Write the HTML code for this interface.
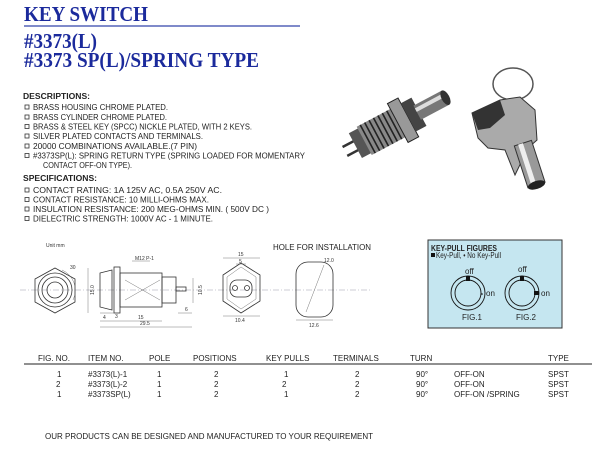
<!DOCTYPE html>
<html><head><meta charset="utf-8"><style>
html,body{margin:0;padding:0;background:#fff;}
svg{display:block}
.t{font-family:"Liberation Sans",sans-serif;font-size:8px;fill:#222}
.s{font-family:"Liberation Serif",serif;font-weight:bold;fill:#1b2a9c;font-size:21px}
.d{font-family:"Liberation Sans",sans-serif;font-size:5px;fill:#333}
.ln{stroke:#333;stroke-width:0.8;fill:none}
.th{stroke:#555;stroke-width:0.4;fill:none}
</style></head><body>
<svg width="600" height="451" viewBox="0 0 600 451" xmlns="http://www.w3.org/2000/svg">
<rect width="600" height="451" fill="#fff"/>
<text class="s" x="24" y="21" textLength="124" lengthAdjust="spacingAndGlyphs">KEY SWITCH</text>
<line x1="24" y1="26" x2="300" y2="26" stroke="#3344aa" stroke-width="1.2"/>
<text class="s" x="24" y="48" textLength="73" lengthAdjust="spacingAndGlyphs">#3373(L)</text>
<text class="s" x="24" y="67" textLength="235" lengthAdjust="spacingAndGlyphs">#3373 SP(L)/SPRING TYPE</text>
<g class="t">
<text x="23" y="99" font-weight="bold" textLength="67" lengthAdjust="spacingAndGlyphs">DESCRIPTIONS:</text>
<text x="33" y="110" textLength="135" lengthAdjust="spacingAndGlyphs">BRASS HOUSING CHROME PLATED.</text>
<text x="33" y="120" textLength="134" lengthAdjust="spacingAndGlyphs">BRASS CYLINDER CHROME PLATED.</text>
<text x="33" y="129.5" textLength="219" lengthAdjust="spacingAndGlyphs">BRASS &amp; STEEL KEY (SPCC) NICKLE PLATED, WITH 2 KEYS.</text>
<text x="33" y="139" textLength="170" lengthAdjust="spacingAndGlyphs">SILVER PLATED CONTACTS AND TERMINALS.</text>
<text x="33" y="149" textLength="164" lengthAdjust="spacingAndGlyphs">20000 COMBINATIONS AVAILABLE.(7 PIN)</text>
<text x="33" y="158.5" textLength="272" lengthAdjust="spacingAndGlyphs">#3373SP(L): SPRING RETURN TYPE (SPRING LOADED FOR MOMENTARY</text>
<text x="43" y="168" textLength="89" lengthAdjust="spacingAndGlyphs">CONTACT OFF-ON TYPE).</text>
<text x="23" y="181" font-weight="bold" textLength="74" lengthAdjust="spacingAndGlyphs">SPECIFICATIONS:</text>
<text x="33" y="193" textLength="189" lengthAdjust="spacingAndGlyphs">CONTACT RATING: 1A 125V AC, 0.5A 250V AC.</text>
<text x="33" y="202.5" textLength="176" lengthAdjust="spacingAndGlyphs">CONTACT RESISTANCE: 10 MILLI-OHMS MAX.</text>
<text x="33" y="212" textLength="236" lengthAdjust="spacingAndGlyphs">INSULATION RESISTANCE: 200 MEG-OHMS MIN. ( 500V DC )</text>
<text x="33" y="221.5" textLength="180" lengthAdjust="spacingAndGlyphs">DIELECTRIC STRENGTH: 1000V AC - 1 MINUTE.</text>
</g>
<g fill="none" stroke="#333" stroke-width="0.8">
<rect x="25" y="105" width="4" height="4"/><rect x="25" y="115" width="4" height="4"/><rect x="25" y="124.5" width="4" height="4"/><rect x="25" y="134" width="4" height="4"/><rect x="25" y="144" width="4" height="4"/><rect x="25" y="153.5" width="4" height="4"/>
<rect x="25" y="188" width="4" height="4"/><rect x="25" y="197.5" width="4" height="4"/><rect x="25" y="207" width="4" height="4"/><rect x="25" y="216.5" width="4" height="4"/>
</g>
<g transform="rotate(-28 396 124)">
<rect x="338" y="118" width="14" height="2.5" fill="#333"/><rect x="338" y="128" width="14" height="2.5" fill="#333"/>
<rect x="350" y="110" width="12" height="28" fill="#555"/>
<rect x="360" y="108" width="40" height="32" fill="#888"/>
<g stroke="#222" stroke-width="1.6">
<line x1="364" y1="108" x2="364" y2="140"/><line x1="369" y1="108" x2="369" y2="140"/><line x1="374" y1="108" x2="374" y2="140"/><line x1="379" y1="108" x2="379" y2="140"/><line x1="384" y1="108" x2="384" y2="140"/><line x1="389" y1="108" x2="389" y2="140"/><line x1="394" y1="108" x2="394" y2="140"/>
</g>
<rect x="398" y="102" width="12" height="44" fill="#999" stroke="#222"/>
<rect x="410" y="108" width="12" height="32" fill="#444"/>
<rect x="420" y="116" width="32" height="16" fill="#777"/>
<rect x="420" y="119" width="32" height="4" fill="#ddd"/>
<ellipse cx="452" cy="124" rx="4" ry="8" fill="#333"/>
</g>
<ellipse cx="513" cy="84" rx="20" ry="16" fill="none" stroke="#555" stroke-width="1.5"/>
<path d="M472 113 L500 100 L520 97 L535 110 L537 140 L528 148 L515 175 L505 150 L488 148 L478 138 Z" fill="#aaa" stroke="#333"/>
<path d="M472 113 L500 100 L505 115 L490 128 L478 130 Z" fill="#333"/>
<g transform="rotate(-18 530 165)"><rect x="521" y="142" width="18" height="44" fill="#999" stroke="#333"/><rect x="525" y="142" width="5" height="44" fill="#eee"/><ellipse cx="530" cy="186" rx="9" ry="4" fill="#222"/></g>
<text class="d" x="46" y="247">Unit mm</text>
<text class="t" x="273" y="250" textLength="98" lengthAdjust="spacingAndGlyphs">HOLE FOR INSTALLATION</text>
<line x1="20" y1="290" x2="370" y2="290" stroke="#99a" stroke-width="0.5" stroke-dasharray="6 2 1 2"/>
<polygon points="55,268 75,279 75,302 55,313 35,302 35,279" class="ln"/>
<circle cx="55" cy="290" r="17" class="ln"/><circle cx="55" cy="290" r="13" class="ln"/><circle cx="55" cy="290" r="8" class="ln"/>
<path d="M62 270 A22 22 0 0 1 73 300" class="th"/><text class="d" x="70" y="269">30</text>
<line x1="88" y1="268" x2="88" y2="313" class="th"/><text class="d" x="90" y="295" transform="rotate(-90 92 293)">15.0</text>
<path d="M100 273 L112 270 L112 310 L100 307 Z" class="ln"/>
<rect x="114" y="267" width="6" height="46" class="ln"/>
<rect x="120" y="273" width="42" height="34" class="ln"/>
<path d="M125 280 L160 300 M125 300 L160 280" class="th"/>
<rect x="162" y="277" width="14" height="26" class="ln"/>
<rect x="176" y="287" width="10" height="4" class="ln"/>
<text class="d" x="135" y="260">M12 P-1</text><line x1="132" y1="261" x2="150" y2="261" class="th"/>
<line x1="193" y1="278" x2="193" y2="303" class="th"/><text class="d" x="196" y="297" transform="rotate(-90 198 293)">10.5</text>
<line x1="100" y1="313" x2="120" y2="313" class="th"/><text class="d" x="115" y="318">3</text>
<line x1="100" y1="321" x2="162" y2="321" class="th"/><text class="d" x="103" y="319">4</text><text class="d" x="138" y="319">15</text>
<line x1="100" y1="327" x2="192" y2="327" class="th"/><text class="d" x="140" y="325">29.5</text>
<line x1="178" y1="313" x2="192" y2="313" class="th"/><text class="d" x="185" y="311">6</text>
<polygon points="241,263 260,275 260,301 241,313 223,301 223,275" class="ln"/>
<polygon points="241,267 256,277 256,299 241,309 227,299 227,277" class="th"/>
<rect x="230" y="280" width="22" height="17" rx="7" class="ln"/>
<circle cx="235" cy="288" r="2.5" class="ln"/><circle cx="247" cy="288" r="2.5" class="ln"/>
<line x1="223" y1="258" x2="260" y2="258" class="th"/><text class="d" x="238" y="256">15</text>
<line x1="236" y1="264" x2="246" y2="264" class="th"/><text class="d" x="239" y="263">5</text>
<line x1="223" y1="316" x2="260" y2="316" class="th"/><text class="d" x="235" y="322">10.4</text>
<rect x="296" y="262" width="37" height="55" rx="12" class="ln" stroke-width="1.1"/>
<line x1="306" y1="312" x2="324" y2="265" class="th"/><text class="d" x="324" y="262">12.0</text>
<line x1="296" y1="320" x2="333" y2="320" class="th"/><text class="d" x="309" y="327">12.6</text>
<rect x="428" y="240" width="134" height="88" fill="#c5e6f0" stroke="#333" stroke-width="1"/>
<text class="t" x="431" y="251" font-weight="bold" font-size="6.5" textLength="66" lengthAdjust="spacingAndGlyphs">KEY-PULL FIGURES</text>
<rect x="431" y="253" width="4" height="4" fill="#111"/>
<text class="t" x="436" y="258" font-size="5.5" textLength="65" lengthAdjust="spacingAndGlyphs">Key-Pull,  • No Key-Pull</text>
<circle cx="468" cy="293" r="17" fill="none" stroke="#111" stroke-width="0.9"/><circle cx="468" cy="293" r="13" fill="none" stroke="#111" stroke-width="0.9"/>
<rect x="466" y="276" width="4" height="5" fill="#111"/><circle cx="482" cy="294" r="0.8" fill="#111"/>
<text class="t" x="465" y="274" font-size="5.5">off</text><text class="t" x="486" y="296" font-size="5.5">on</text><text class="t" x="462" y="320" font-size="5.5">FIG.1</text>
<circle cx="522" cy="293" r="17" fill="none" stroke="#111" stroke-width="0.9"/><circle cx="522" cy="293" r="13" fill="none" stroke="#111" stroke-width="0.9"/>
<rect x="520" y="276" width="4" height="5" fill="#111"/><rect x="534" y="291" width="5" height="4" fill="#111"/>
<text class="t" x="518" y="272" font-size="5.5">off</text><text class="t" x="541" y="296" font-size="5.5">on</text><text class="t" x="516" y="320" font-size="5.5">FIG.2</text>
<g class="t" font-size="7">
<text x="38" y="361">FIG. NO.</text><text x="88" y="361">ITEM NO.</text><text x="149" y="361">POLE</text><text x="193" y="361">POSITIONS</text><text x="266" y="361">KEY PULLS</text><text x="333" y="361">TERMINALS</text><text x="410" y="361">TURN</text><text x="548" y="361">TYPE</text>
<text x="57" y="377">1</text><text x="88" y="377">#3373(L)-1</text><text x="157" y="377">1</text><text x="214" y="377">2</text><text x="284" y="377">1</text><text x="355" y="377">2</text><text x="416" y="377">90°</text><text x="454" y="377">OFF-ON</text><text x="548" y="377">SPST</text>
<text x="56" y="387">2</text><text x="88" y="387">#3373(L)-2</text><text x="157" y="387">1</text><text x="214" y="387">2</text><text x="282" y="387">2</text><text x="355" y="387">2</text><text x="416" y="387">90°</text><text x="454" y="387">OFF-ON</text><text x="548" y="387">SPST</text>
<text x="57" y="397">1</text><text x="88" y="397">#3373SP(L)</text><text x="157" y="397">1</text><text x="214" y="397">2</text><text x="284" y="397">1</text><text x="355" y="397">2</text><text x="416" y="397">90°</text><text x="454" y="397">OFF-ON /SPRING</text><text x="548" y="397">SPST</text>
<text x="45" y="439" textLength="328" lengthAdjust="spacingAndGlyphs">OUR PRODUCTS CAN BE DESIGNED AND MANUFACTURED TO YOUR REQUIREMENT</text>
</g>
<line x1="24" y1="364" x2="592" y2="364" stroke="#222" stroke-width="0.9"/>
</svg>
</body></html>
